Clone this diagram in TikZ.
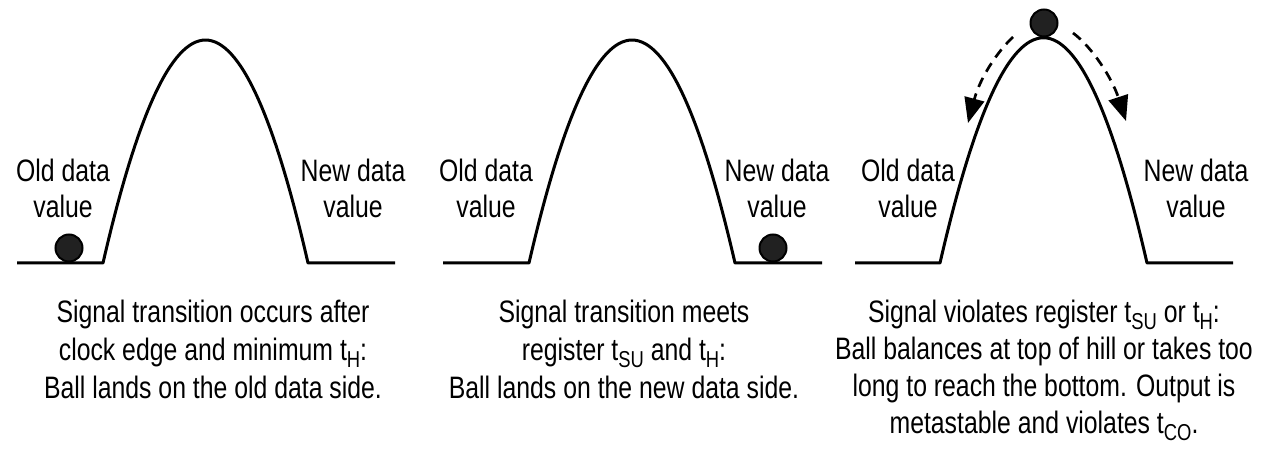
\documentclass[tikz,border=0pt]{standalone}
\usepackage{fontspec}
\setmainfont{Liberation Sans}[FakeStretch=0.8]
\usetikzlibrary{arrows.meta}
\newcommand{\subtxt}[1]{\raisebox{-7pt}{\fontsize{23}{23}\selectfont #1}}
\begin{document}
\begin{tikzpicture}[x=1pt,y=-1pt,
  hill/.style={line width=3pt,line join=round},
  ball/.style={circle,draw=black,fill=black!87,line width=2pt,minimum size=27pt,inner sep=0pt},
  lbl/.style={anchor=base,inner sep=0pt,font=\fontsize{31}{37}\selectfont},
  roll/.style={line width=2.7pt,dash pattern=on 10pt off 7pt,-{Triangle[length=25pt,width=20pt]}}]
\useasboundingbox (0,0) rectangle (1267,457);
% panel 1
\coordinate (a1) at (17,263);
\coordinate (b1) at (103,263);
\coordinate (c1) at (308,263);
\coordinate (d1) at (395,263);
\draw[hill] (a1) -- (b1) .. controls (171.3,-34.3) and (239.7,-34.3) .. (c1) -- (d1);
\node[ball] (ball1) at (69,248) {};
\node[lbl] (o1a) at (63,182) {Old data};
\node[lbl] (o1b) at (63,218) {value};
\node[lbl] (n1a) at (353,182) {New data};
\node[lbl] (n1b) at (353,218) {value};
\node[lbl] (t1a) at (213,322) {Signal transition occurs after};
\node[lbl] (t1b) at (213,360) {clock edge and minimum t\subtxt{H}:};
\node[lbl] (t1c) at (213,398) {Ball lands on the old data side.};
% panel 2
\coordinate (a2) at (443,263);
\coordinate (b2) at (529,263);
\coordinate (c2) at (735,263);
\coordinate (d2) at (822,263);
\draw[hill] (a2) -- (b2) .. controls (597.7,-34.3) and (666.3,-34.3) .. (c2) -- (d2);
\node[ball] (ball2) at (773,248) {};
\node[lbl] (o2a) at (486,182) {Old data};
\node[lbl] (o2b) at (486,218) {value};
\node[lbl] (n2a) at (777,182) {New data};
\node[lbl] (n2b) at (777,218) {value};
\node[lbl] (t2a) at (624,322) {Signal transition meets};
\node[lbl] (t2b) at (624,360) {register t\subtxt{SU} and t\subtxt{H}:};
\node[lbl] (t2c) at (624,398) {Ball lands on the new data side.};
% panel 3
\coordinate (a3) at (855,263);
\coordinate (b3) at (940,263);
\coordinate (c3) at (1147,263);
\coordinate (d3) at (1233,263);
\draw[hill] (a3) -- (b3) .. controls (1009,-37.3) and (1078,-37.3) .. (c3) -- (d3);
\node[ball] (ball3) at (1044,23) {};
\coordinate (l0) at (1013,37);
\coordinate (l1) at (968,123);
\coordinate (r0) at (1073,33);
\coordinate (r1) at (1126,121);
\draw[roll] (l0) .. controls (997,52) and (980,78) .. (l1);
\draw[roll] (r0) .. controls (1092,47) and (1112,78) .. (r1);
\node[lbl] (o3a) at (908,182) {Old data};
\node[lbl] (o3b) at (908,218) {value};
\node[lbl] (n3a) at (1196,182) {New data};
\node[lbl] (n3b) at (1196,218) {value};
\node[lbl] (t3a) at (1044,322) {Signal violates register t\subtxt{SU} or t\subtxt{H}:};
\node[lbl] (t3b) at (1044,359) {Ball balances at top of hill or takes too};
\node[lbl] (t3c) at (1044,396) {long to reach the bottom. Output is};
\node[lbl] (t3d) at (1044,433) {metastable and violates t\subtxt{CO}.};
\end{tikzpicture}
\end{document}
